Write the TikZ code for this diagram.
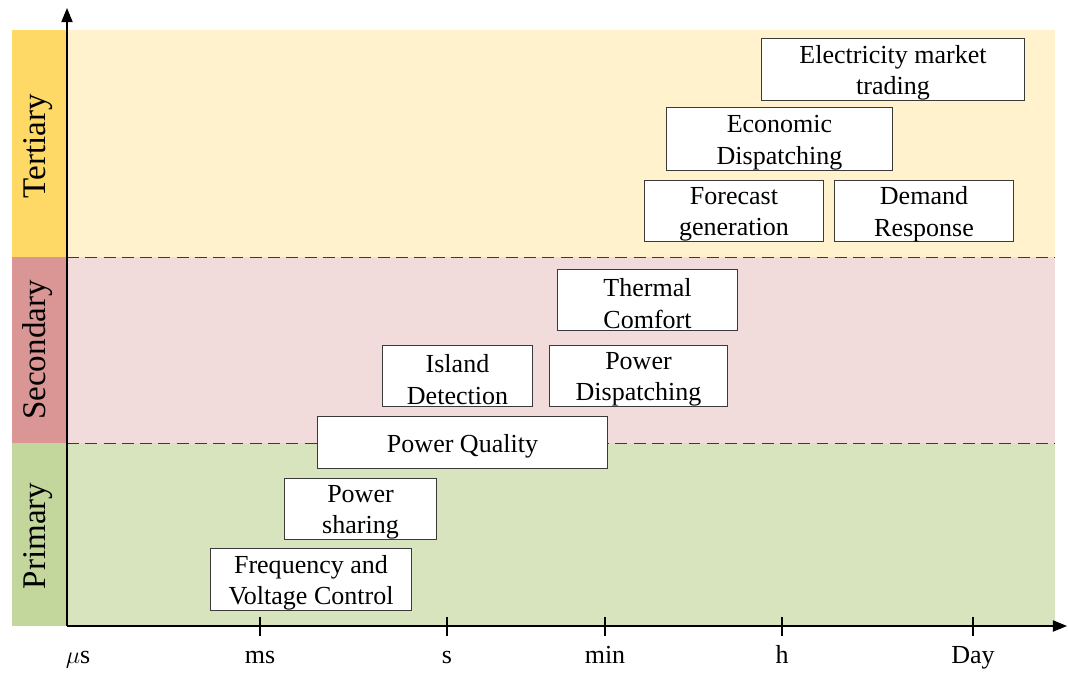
\documentclass[tikz,border=0pt]{standalone}
\usepackage{fontspec}
\setmainfont{Liberation Serif}
\usetikzlibrary{arrows.meta}
\definecolor{terS}{HTML}{FFD966}
\definecolor{terA}{HTML}{FFF2CC}
\definecolor{secS}{HTML}{D99694}
\definecolor{secA}{HTML}{F2DCDB}
\definecolor{priS}{HTML}{C3D69B}
\definecolor{priA}{HTML}{D7E4BD}
\definecolor{edge}{HTML}{3A3A3A}
\tikzset{
  task/.style={draw=edge,line width=0.7pt,fill=white,inner sep=0pt},
  tasktext/.style={align=center,inner sep=0pt,yshift=-2.8pt,
    font=\fontsize{18.5}{22.5}\selectfont},
  level/.style={rotate=90,font=\fontsize{23.5}{26}\selectfont},
  tick/.style={font=\fontsize{18.5}{22}\selectfont,anchor=base},
  band/.style={edge,line width=0.7pt,dash pattern=on 8.5pt off 4.5pt}
}
\begin{document}
\begin{tikzpicture}[x=0.025cm,y=-0.025cm]
\useasboundingbox (0,0) rectangle (1068,673);
% bands
\fill[terA] (67,30) rectangle (1055,257);
\fill[secA] (67,257) rectangle (1055,443);
\fill[priA] (67,443) rectangle (1055,626);
\fill[terS] (12,30) rectangle (67,257);
\fill[secS] (12,257) rectangle (67,443);
\fill[priS] (12,443) rectangle (67,626);
\node[level] (ter) at (38,146) {Tertiary};
\node[level] (sec) at (38,350) {Secondary};
\node[level] (pri) at (38,536) {Primary};
\draw[band] (67,257)--(1055,257);
\draw[band] (67,443)--(1055,443);
% axes
\coordinate (O) at (67,626);
\coordinate (ytop) at (67,8);
\coordinate (xend) at (1067,626);
\draw[-{Triangle[length=10pt,width=8pt]},line width=0.8pt] (O)--(ytop);
\draw[-{Triangle[length=10pt,width=8pt]},line width=0.8pt] (O)--(xend);
\foreach \x/\t in {260/ms,447/s,605/min,782/h,973/Day}
  \draw[line width=0.8pt] (\x,617)--(\x,636) node[tick] at (\x,663) {\t};
\node[tick] (us) at (78,663) {$\mu$s};
% tasks
\node[task,minimum width=6.55cm,minimum height=1.55cm,
  label={[tasktext]center:{Electricity market\\trading}}] (emt) at (893,69) {};
\node[task,minimum width=5.625cm,minimum height=1.575cm,
  label={[tasktext]center:{Economic\\Dispatching}}] (eco) at (779.5,138.5) {};
\node[task,minimum width=4.45cm,minimum height=1.525cm,
  label={[tasktext]center:{Forecast\\generation}}] (fcg) at (734,210.5) {};
\node[task,minimum width=4.45cm,minimum height=1.525cm,
  label={[tasktext]center:{Demand\\Response}}] (dem) at (924,210.5) {};
\node[task,minimum width=4.475cm,minimum height=1.525cm,
  label={[tasktext]center:{Thermal\\Comfort}}] (thc) at (647.5,299.5) {};
\node[task,minimum width=3.725cm,minimum height=1.525cm,
  label={[tasktext]center:{Island\\Detection}}] (isl) at (457.5,375.5) {};
\node[task,minimum width=4.425cm,minimum height=1.525cm,
  label={[tasktext]center:{Power\\Dispatching}}] (pdi) at (638.5,375.5) {};
\node[task,minimum width=7.225cm,minimum height=1.3cm,
  label={[tasktext]center:{Power Quality}}] (pqu) at (462.5,442) {};
\node[task,minimum width=3.775cm,minimum height=1.525cm,
  label={[tasktext]center:{Power\\sharing}}] (psh) at (360.5,508.5) {};
\node[task,minimum width=5cm,minimum height=1.55cm,
  label={[tasktext]center:{Frequency and\\Voltage Control}}] (fvc) at (311,579) {};
\end{tikzpicture}
\end{document}
